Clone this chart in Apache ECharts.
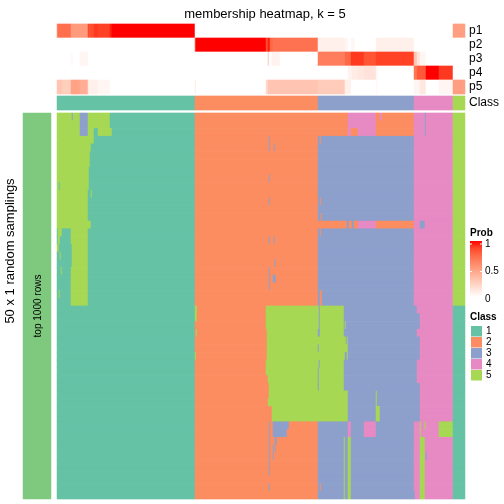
<!DOCTYPE html>
<html><head><meta charset="utf-8">
<script src="https://cdn.jsdelivr.net/npm/echarts@6/dist/echarts.min.js"></script>
<style>html,body{margin:0;padding:0;background:#fff}#c{width:504px;height:504px}</style>
</head><body><div id="c"></div>
<script>
// ---------- data ----------
const N_SAMPLES = 408;           // samples (columns)
const N_SAMPLINGS = 50;          // random samplings (rows)
const probNames = ['p1', 'p2', 'p3', 'p4', 'p5'];
const classNames = ['1', '2', '3', '4', '5'];
const classColors = ['#66C2A5', '#FC8D62', '#8DA0CB', '#E78AC3', '#A6D854'];
const probTicks = ['1', '0.5', '0'];

// runs: [value, first sample index]; run lasts until next run start
const p1Runs = [[0.6,0],[0.72,1],[0.52,14],[0.88,31],[0.8,32],[0.85,33],[0.9,37],[0.88,41],[0.95,53],[1,55],[0,138],[0.5,396]];
const p2Runs = [[0,0],[0.85,138],[1,139],[0.85,209],[0.95,211],[0.75,213],[0.7,216],[0.08,261],[0.05,288],[0,291],[0.04,294],[0,298],[0.08,319],[0,357]];
const p3Runs = [[0,0],[0.03,14],[0,16],[0.05,23],[0,31],[0.3,211],[0,212],[0.06,215],[0,223],[0.65,261],[0.75,288],[0.9,294],[0.82,307],[0.88,319],[0.3,357],[0.15,360],[0.05,363],[0,369]];
const p4Runs = [[0,0],[0.06,291],[0.1,295],[0.12,301],[0.15,307],[0.04,319],[0,321],[0.68,357],[0.8,360],[1,369],[0.9,382],[0,396]];
const p5Runs = [[0.3,0],[0.25,5],[0.48,14],[0.42,23],[0.12,31],[0.08,32],[0.05,41],[0,53],[0.1,138],[0,139],[0.2,209],[0.3,211],[0.27,261],[0.08,288],[0,294],[0.03,319],[0,321],[0.05,357],[0.12,363],[0,369],[0.05,382],[0.5,396]];
const classRuns = [[1,0],[2,138],[3,261],[4,357],[5,396]];

// class per sample for each of the 50 samplings: [class, first sample index]
const samplingRuns = [
  [[5,0],[3,15],[5,16],[3,23],[5,31],[1,53],[2,138],[4,291],[2,319],[4,323],[2,325],[4,357],[3,368],[4,369],[5,396]],
  [[5,0],[3,23],[5,31],[1,53],[2,138],[4,291],[2,319],[4,357],[3,368],[4,369],[5,396]],
  [[5,0],[3,23],[5,31],[1,37],[5,41],[1,55],[2,138],[4,291],[2,294],[4,301],[2,319],[4,357],[3,368],[4,369],[5,396]],
  [[5,0],[1,37],[2,138],[3,212],[2,213],[3,261],[2,263],[3,264],[4,357],[5,396]],
  [[5,0],[1,34],[2,138],[3,212],[2,213],[3,217],[2,218],[3,261],[4,357],[5,396]],
  [[5,0],[1,33],[2,138],[3,261],[4,357],[5,396]],
  [[5,0],[1,33],[2,138],[3,261],[4,357],[5,396]],
  [[5,0],[1,32],[2,138],[3,261],[4,357],[5,396]],
  [[5,0],[1,32],[2,138],[3,212],[2,213],[3,261],[4,357],[5,396]],
  [[5,0],[1,2],[5,3],[1,32],[2,138],[3,261],[4,357],[5,396]],
  [[5,0],[1,31],[5,34],[1,35],[2,138],[3,261],[4,357],[5,396]],
  [[5,0],[1,31],[2,138],[3,212],[2,213],[3,261],[2,263],[3,264],[4,357],[5,396]],
  [[5,0],[1,31],[2,138],[3,261],[4,357],[5,396]],
  [[5,0],[1,31],[2,138],[3,261],[2,264],[3,265],[4,357],[5,396]],
  [[5,0],[1,34],[2,138],[3,290],[2,292],[3,295],[2,297],[4,301],[2,319],[4,357],[3,363],[4,368],[5,396]],
  [[1,0],[5,1],[1,5],[5,14],[1,31],[2,138],[3,261],[2,263],[3,264],[4,357],[5,396]],
  [[1,0],[5,1],[1,3],[5,14],[1,31],[2,138],[3,212],[2,213],[3,217],[2,218],[3,261],[4,357],[5,396]],
  [[5,0],[1,2],[5,15],[1,31],[2,138],[3,261],[4,357],[5,396]],
  [[1,0],[5,3],[1,4],[5,15],[1,31],[2,138],[3,261],[4,357],[5,396]],
  [[1,0],[5,15],[1,31],[2,138],[3,218],[2,219],[3,261],[4,357],[5,396]],
  [[1,0],[5,4],[1,5],[5,14],[1,31],[2,138],[3,212],[2,213],[3,261],[4,357],[5,396]],
  [[1,0],[5,14],[1,31],[2,138],[3,212],[2,213],[3,216],[2,219],[3,261],[4,357],[5,396]],
  [[1,0],[5,14],[1,31],[2,138],[3,212],[2,213],[3,261],[4,357],[5,396]],
  [[1,0],[5,2],[1,3],[5,14],[1,31],[2,138],[3,261],[2,263],[3,265],[4,357],[5,396]],
  [[1,0],[5,14],[1,31],[2,138],[3,261],[2,263],[3,265],[4,357],[5,396]],
  [[1,0],[5,138],[2,140],[5,209],[3,262],[5,263],[3,287],[4,360],[1,396]],
  [[1,0],[5,138],[2,140],[5,209],[3,262],[5,263],[3,287],[4,363],[1,396]],
  [[1,0],[2,138],[5,209],[3,262],[5,263],[3,287],[5,288],[3,289],[4,363],[1,396]],
  [[1,0],[2,138],[5,139],[2,140],[5,210],[3,261],[5,263],[3,287],[4,360],[1,396]],
  [[1,0],[2,138],[5,210],[3,289],[5,290],[3,291],[4,363],[1,396]],
  [[1,0],[2,138],[5,210],[3,261],[5,262],[3,291],[4,363],[1,396]],
  [[1,0],[5,138],[2,139],[5,210],[3,288],[5,290],[3,291],[4,363],[1,396]],
  [[1,0],[2,138],[5,209],[3,262],[5,263],[3,287],[4,360],[1,396]],
  [[1,0],[2,138],[5,209],[3,261],[5,262],[3,287],[4,360],[1,396]],
  [[1,0],[2,138],[5,211],[3,261],[5,262],[3,287],[4,360],[1,396]],
  [[1,0],[2,138],[5,212],[3,261],[5,262],[3,287],[4,363],[1,396]],
  [[1,0],[2,138],[5,212],[3,291],[5,319],[3,320],[4,363],[1,396]],
  [[1,0],[2,138],[5,211],[3,291],[5,319],[3,320],[4,363],[1,396]],
  [[1,0],[2,138],[5,215],[3,291],[5,319],[3,323],[4,363],[1,396]],
  [[1,0],[2,138],[5,215],[3,291],[5,319],[3,323],[4,363],[1,396]],
  [[1,0],[2,138],[3,212],[2,213],[3,216],[2,232],[3,261],[4,291],[3,294],[4,307],[3,319],[4,357],[5,363],[4,364],[5,368],[4,369],[5,382],[1,396]],
  [[1,0],[2,138],[3,212],[2,213],[3,216],[2,230],[3,261],[4,291],[3,294],[4,307],[3,319],[4,357],[5,363],[4,364],[5,382],[1,396]],
  [[1,0],[2,138],[3,212],[2,213],[3,218],[2,220],[3,261],[5,287],[3,288],[5,291],[3,294],[4,357],[5,363],[4,368],[1,396]],
  [[1,0],[2,138],[3,212],[2,213],[3,216],[2,217],[3,218],[2,219],[3,261],[5,287],[3,288],[5,291],[3,294],[4,357],[5,363],[4,368],[1,396]],
  [[1,0],[2,138],[3,212],[2,213],[3,216],[2,217],[3,261],[5,287],[3,288],[5,291],[3,294],[4,357],[5,363],[4,368],[3,369],[4,370],[1,396]],
  [[1,0],[2,138],[3,212],[2,213],[3,261],[5,287],[3,288],[5,291],[3,294],[4,357],[5,363],[4,368],[1,396]],
  [[1,0],[2,138],[3,212],[2,213],[3,261],[5,287],[3,288],[5,291],[3,294],[4,357],[5,363],[4,368],[1,396]],
  [[1,0],[2,138],[3,261],[5,287],[3,288],[5,291],[3,294],[4,357],[5,363],[4,368],[1,396]],
  [[1,0],[2,138],[3,212],[2,213],[3,261],[2,263],[3,264],[5,287],[3,288],[5,291],[3,294],[4,357],[5,363],[4,368],[1,396]],
  [[1,0],[2,138],[3,261],[5,287],[3,288],[5,291],[3,294],[4,358],[5,363],[4,368],[1,396]]
];

// ---------- build ----------
function expand(runs) {
  const out = [];
  for (let k = 0; k < runs.length; k++) {
    const v = runs[k][0], s = runs[k][1];
    const e = k + 1 < runs.length ? runs[k + 1][1] : N_SAMPLES;
    for (let i = s; i < e; i++) out.push(v);
  }
  return out;
}
const sampleIdx = Array.from({length: N_SAMPLES}, (_, i) => String(i));
const rowIdx = Array.from({length: N_SAMPLINGS}, (_, i) => String(i));

const probData = [];
[p1Runs, p2Runs, p3Runs, p4Runs, p5Runs].forEach((r, j) => {
  expand(r).forEach((v, i) => probData.push([i, j, v]));
});
const classData = expand(classRuns).map((v, i) => [i, 0, v]);
const mainData = [];
samplingRuns.forEach((r, j) => expand(r).forEach((v, i) => mainData.push([i, j, v])));
const rowAnnoData = [[0, 0, 6]];

const FONT = '"Liberation Sans", Arial, Helvetica, sans-serif';
const probColors = ['#FFFFFF', '#FFE7DF', '#FFCFBF', '#FFB7A0', '#FF9E81', '#FF8464', '#FF6846', '#FF4628', '#FF0000'];

const chart = echarts.init(document.getElementById('c'), null, {renderer: 'canvas'});
const hm = (xi, yi, data) => ({
  type: 'heatmap', xAxisIndex: xi, yAxisIndex: yi, data: data,
  progressive: 0, animation: false, emphasis: {disabled: true}, silent: true
});
const hiddenCat = (gi, data, inverse) => ({type: 'category', gridIndex: gi, data: data, show: false, inverse: !!inverse});

const legendEls = [];
legendEls.push({type: 'text', z: 100, left: 470, top: 228, style: {text: 'Prob', font: 'bold 10px ' + FONT, fill: '#000'}});
legendEls.push({type: 'rect', z: 100, shape: {x: 470, y: 241, width: 12, height: 56},
  style: {fill: new echarts.graphic.LinearGradient(0, 0, 0, 1,
    probColors.slice().reverse().map((c, i, a) => ({offset: i / (a.length - 1), color: c})))}});
probTicks.forEach((t, i) => {
  const y = 244 + i * 27.5;
  legendEls.push({type: 'text', z: 100, x: 485, y: y, style: {text: t, font: '10px ' + FONT, fill: '#000', verticalAlign: 'middle'}});
  if (i < 2) {
    legendEls.push({type: 'line', z: 101, shape: {x1: 470, y1: y, x2: 472, y2: y}, style: {stroke: '#fff', lineWidth: 1}});
    legendEls.push({type: 'line', z: 101, shape: {x1: 480, y1: y, x2: 482, y2: y}, style: {stroke: '#fff', lineWidth: 1}});
  }
});
legendEls.push({type: 'text', z: 100, left: 470, top: 312, style: {text: 'Class', font: 'bold 10px ' + FONT, fill: '#000'}});
classNames.forEach((n, i) => {
  const y = 326 + i * 11;
  legendEls.push({type: 'rect', z: 100, shape: {x: 471, y: y, width: 11, height: 10.5}, style: {fill: classColors[i]}});
  legendEls.push({type: 'text', z: 100, x: 486, y: y + 5.5, style: {text: n, font: '10px ' + FONT, fill: '#000', verticalAlign: 'middle'}});
});

chart.setOption({
  animation: false,
  backgroundColor: '#fff',
  title: {text: 'membership heatmap, k = 5', left: 260, top: 3, textAlign: 'center',
    textStyle: {fontFamily: FONT, fontSize: 13, fontWeight: 'normal', color: '#000'}},
  grid: [
    {left: 57, top: 24, width: 408, height: 70},
    {left: 57, top: 96, width: 408, height: 14},
    {left: 57, top: 113, width: 408, height: 386},
    {left: 23, top: 113, width: 28, height: 386}
  ],
  xAxis: [hiddenCat(0, sampleIdx), hiddenCat(1, sampleIdx), hiddenCat(2, sampleIdx), hiddenCat(3, ['a'])],
  yAxis: [
    {type: 'category', gridIndex: 0, data: probNames, inverse: true, position: 'right',
      axisLine: {show: false}, axisTick: {show: false}, splitLine: {show: false},
      axisLabel: {interval: 0, margin: 4, fontSize: 12, fontFamily: FONT, color: '#000'}},
    {type: 'category', gridIndex: 1, data: ['Class'], position: 'right',
      axisLine: {show: false}, axisTick: {show: false}, splitLine: {show: false},
      axisLabel: {interval: 0, margin: 4, fontSize: 12, fontFamily: FONT, color: '#000'}},
    hiddenCat(2, rowIdx, true),
    hiddenCat(3, ['r'])
  ],
  visualMap: [
    {type: 'continuous', min: 0, max: 1, seriesIndex: 0, show: false, inRange: {color: probColors}},
    {type: 'piecewise', seriesIndex: [1, 2, 3], show: false,
      pieces: classColors.map((c, i) => ({value: i + 1, color: c})).concat([{value: 6, color: '#7FC97F'}])}
  ],
  series: [hm(0, 0, probData), hm(1, 1, classData), hm(2, 2, mainData), hm(3, 3, rowAnnoData)],
  graphic: [
    {type: 'text', z: 100, x: 10, y: 251, rotation: Math.PI / 2,
      style: {text: '50 x 1 random samplings', font: '13px ' + FONT, fill: '#000', align: 'center', verticalAlign: 'middle'}},
    {type: 'text', z: 100, x: 38, y: 306, rotation: Math.PI / 2,
      style: {text: 'top 1000 rows', font: '10px ' + FONT, fill: '#000', align: 'center', verticalAlign: 'middle'}}
  ].concat(legendEls)
});
</script>
</body></html>
